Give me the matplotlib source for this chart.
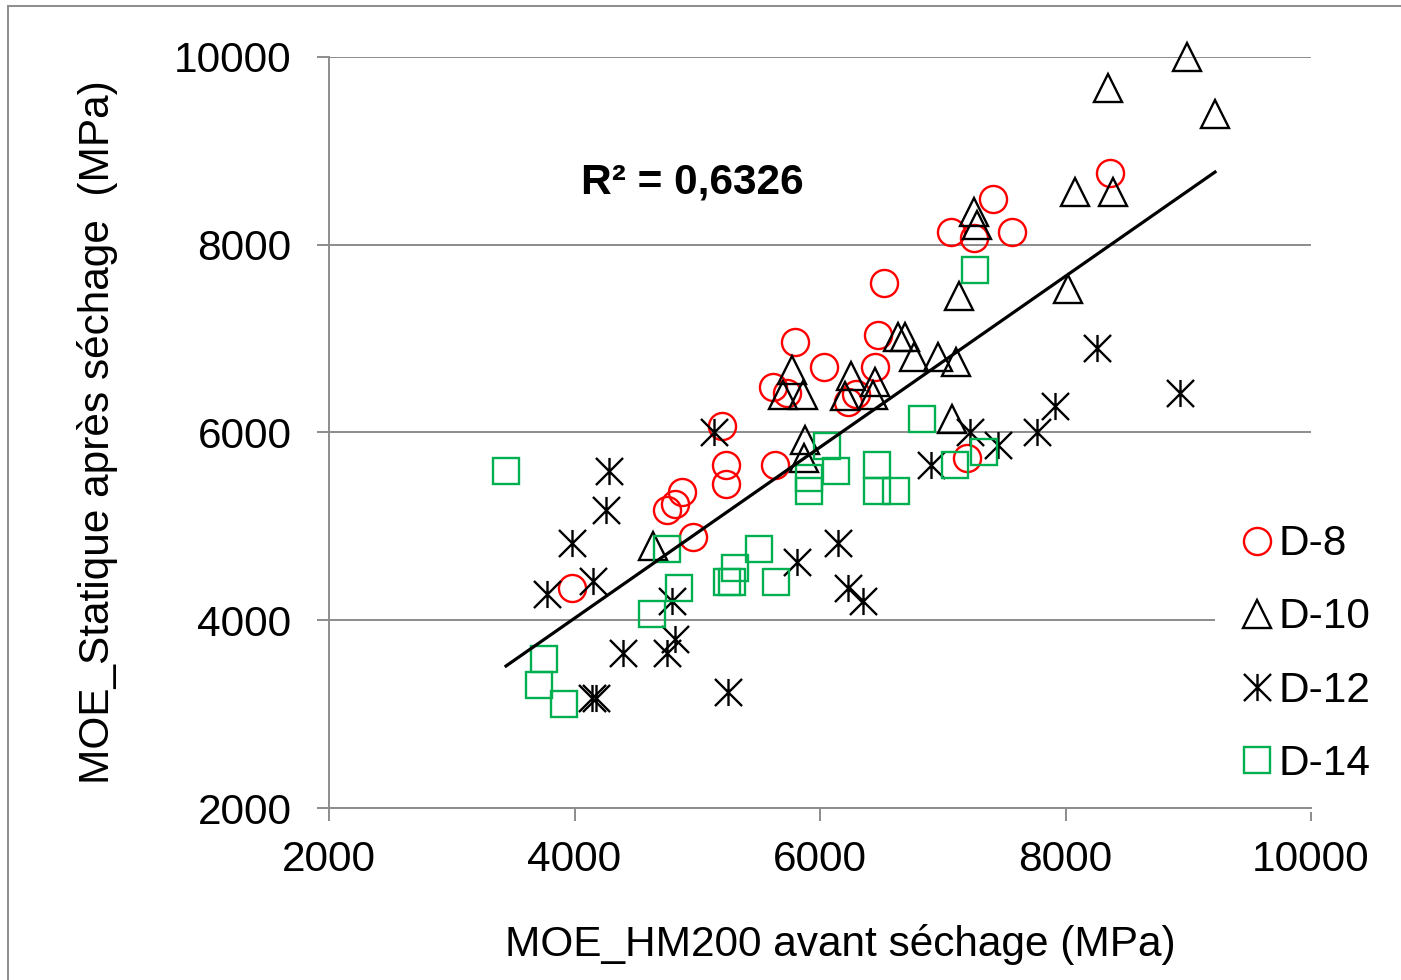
import numpy as np
import matplotlib
matplotlib.use("Agg")
import matplotlib.pyplot as plt
from matplotlib.path import Path
from matplotlib.patches import Rectangle

plt.rcParams['font.family'] = ['Liberation Sans', 'DejaVu Sans']

# D-8 (circles)
d8_x = [3980, 4965, 4754, 4819, 4876, 5234, 5234, 5202, 5634, 5618, 5731, 5797,
        6033, 6228, 6293, 6448, 6473, 6522, 7067, 7255, 7410, 7564, 7198, 8363]
d8_y = [4344, 4887, 5175, 5239, 5366, 5452, 5654, 6069, 5654, 6485, 6421, 6964,
        6698, 6325, 6410, 6698, 7039, 7593, 8136, 8072, 8487, 8136, 5729, 8764]

# D-10 (triangles)
d10_x = [4640, 5878, 5870, 5772, 5699, 5862, 6253, 6204, 6448, 6432, 6636, 6693,
         6766, 6962, 7108, 7076, 7133, 7255, 7280, 8021, 8078, 8387, 8347, 8990, 9218]
d10_y = [4790, 5920, 5729, 6666, 6400, 6400, 6602, 6389, 6538, 6400, 7018, 7018,
         6804, 6804, 6751, 6144, 7454, 8349, 8210, 7529, 8557, 8557, 9667, 10000, 9388]

# D-12 (asterisks)
d12_x = [5137, 4281, 4257, 3980, 3776, 4151, 4794, 4819, 4754, 4395, 4140, 4175,
         5251, 5813, 6147, 6228, 6350, 7222, 7450, 6904, 7768, 8257, 8933, 7915]
d12_y = [6006, 5590, 5175, 4823, 4280, 4418, 4210, 3800, 3651, 3651, 3172, 3172,
         3236, 4621, 4823, 4344, 4205, 6000, 5867, 5654, 6000, 6900, 6421, 6282]

# D-14 (squares)
d14_x = [3442, 3752, 3711, 3915, 4631, 4754, 4852, 5240, 5280, 5308, 5503, 5642,
         5911, 5911, 6057, 6131, 6465, 6465, 6620, 6831, 7100, 7336, 7263]
d14_y = [5590, 3587, 3311, 3108, 4067, 4759, 4344, 4410, 4410, 4557, 4759, 4408,
         5510, 5377, 5860, 5590, 5654, 5377, 5377, 6144, 5654, 5793, 7731]

# linear trend
trend_slope = 0.911
trend_intercept = 377
r2_text = "R² = 0,6326"

# excel-style star marker: X plus a vertical bar
star = Path([(-1, -1), (1, 1), (-1, 1), (1, -1), (0, -1), (0, 1)],
            [Path.MOVETO, Path.LINETO, Path.MOVETO, Path.LINETO, Path.MOVETO, Path.LINETO])

fig = plt.figure(figsize=(14.01, 9.8), dpi=100)
ax = fig.add_axes([329 / 1401, 1 - 808 / 980, (1311 - 329) / 1401, (808 - 57) / 980])

grid_col = '#8c8c8c'
ms = 19.5
fs = 30.5

ax.plot(d8_x, d8_y, 'o', ms=ms, mfc='none', mec='#ff0000', mew=1.7, label='D-8',
        zorder=3, clip_on=False)
ax.plot(d10_x, d10_y, '^', ms=ms, mfc='none', mec='black', mew=1.7, label='D-10',
        zorder=3, clip_on=False)
ax.plot(d12_x, d12_y, ls='none', marker=star, ms=ms, mfc='none', mec='black', mew=1.7,
        label='D-12', zorder=3, clip_on=False)
ax.plot(d14_x, d14_y, 's', ms=ms * 0.95, mfc='none', mec='#00b050', mew=1.7, label='D-14',
        zorder=3, clip_on=False)

all_x = np.array(d8_x + d10_x + d12_x + d14_x)
tx = np.array([all_x.min(), all_x.max()])
ax.plot(tx, trend_slope * tx + trend_intercept, color='black', lw=2.3, zorder=4)

ax.text(4050, 8660, r2_text, fontsize=fs, fontweight='bold', va='center', ha='left')

ax.set_xlim(2000, 10000)
ax.set_ylim(2000, 10000)
ax.set_xticks([2000, 4000, 6000, 8000, 10000])
ax.set_yticks([2000, 4000, 6000, 8000, 10000])
ax.yaxis.grid(True, color=grid_col, lw=1.4)
ax.set_axisbelow(True)
for s in ['top', 'right']:
    ax.spines[s].set_visible(False)
for s in ['left', 'bottom']:
    ax.spines[s].set_color(grid_col)
    ax.spines[s].set_linewidth(1.4)
ax.tick_params(axis='both', direction='out', length=9, width=1.4, color=grid_col,
               labelsize=fs)
ax.tick_params(axis='y', pad=18)
ax.tick_params(axis='x', pad=14)

ax.set_xlabel('MOE_HM200 avant séchage (MPa)', fontsize=fs)
ax.set_ylabel('MOE_Statique après séchage  (MPa)', fontsize=fs)
ax.xaxis.set_label_coords(0.521, -0.155)
ax.yaxis.set_label_coords(-0.215, 0.5)

leg = ax.legend(loc='center left', bbox_to_anchor=(1215 / 1401, 1 - 654 / 980),
                bbox_transform=fig.transFigure, fontsize=fs, frameon=True,
                framealpha=1, edgecolor='none', fancybox=False,
                handlelength=0.6, handletextpad=0.22, labelspacing=0.78,
                borderpad=0.68, borderaxespad=0)
leg.get_frame().set_facecolor('white')
# keep legend box under the spines so it only hides the grid line
leg.set_zorder(2.2)

# outer chart border
fig.patches.append(Rectangle((8 / 1401, -0.05), 1.1, 1 - 6 / 980 + 0.05,
                             transform=fig.transFigure, fill=False,
                             edgecolor=grid_col, lw=1.4))

fig.savefig('out.png', dpi=100)
